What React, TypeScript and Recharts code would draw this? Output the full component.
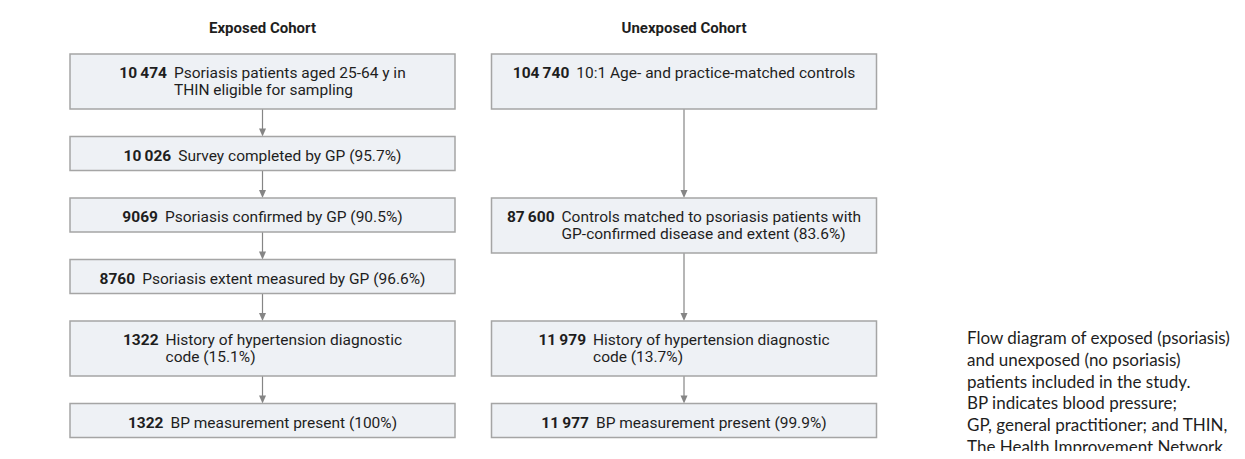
import React from "react";
import { ScatterChart, Scatter, XAxis, YAxis, Customized } from "recharts";

const cohortTitles = ["Exposed Cohort", "Unexposed Cohort"];

const exposedCounts = [10474, 10026, 9069, 8760, 1322, 1322];
const exposedLabels = [
  ["Psoriasis patients aged 25-64 y in", "THIN eligible for sampling"],
  ["Survey completed by GP (95.7%)"],
  ["Psoriasis confirmed by GP (90.5%)"],
  ["Psoriasis extent measured by GP (96.6%)"],
  ["History of hypertension diagnostic", "code (15.1%)"],
  ["BP measurement present (100%)"],
];

const unexposedCounts = [104740, 87600, 11979, 11977];
const unexposedLabels = [
  ["10:1 Age- and practice-matched controls"],
  ["Controls matched to psoriasis patients with", "GP-confirmed disease and extent (83.6%)"],
  ["History of hypertension diagnostic", "code (13.7%)"],
  ["BP measurement present (99.9%)"],
];
// which exposed step each unexposed box lines up with
const unexposedSteps = [0, 2, 4, 5];

const captionLines = [
  "Flow diagram of exposed (psoriasis)",
  "and unexposed (no psoriasis)",
  "patients included in the study.",
  "BP indicates blood pressure;",
  "GP, general practitioner; and THIN,",
  "The Health Improvement Network.",
];

const W = 1245;
const H = 459;
const BOX_W = 385;
const TOP0 = 54;
const GAP = 27.5;
const FONT = "Roboto, sans-serif";
const FS = 15.5;
const TEXT = "#1e1e1e";

const boxH = (lines: number) => (lines > 1 ? 55 : 34);

// row tops follow the exposed column
const rowTops: number[] = [TOP0];
exposedLabels.forEach((l, i) => {
  if (i < exposedLabels.length - 1) rowTops.push(rowTops[i] + boxH(l.length) + GAP);
});

const fmt = (n: number) =>
  n >= 10000 ? String(n).replace(/\B(?=(\d{3})+(?!\d))/g, "\u2009") : String(n);

let ctx: CanvasRenderingContext2D | null = null;
const measure = (s: string, weight: number) => {
  if (!ctx) ctx = document.createElement("canvas").getContext("2d");
  if (!ctx) return s.length * 7;
  ctx.font = `${weight} ${FS}px ${FONT}`;
  return ctx.measureText(s).width;
};

const exposedBoxes = exposedCounts.map((c, i) => ({
  col: 0,
  y: rowTops[i],
  count: c,
  lines: exposedLabels[i],
  h: boxH(exposedLabels[i].length),
}));

const unexposedBoxes = unexposedCounts.map((c, i) => {
  const step = unexposedSteps[i];
  const n = Math.max(unexposedLabels[i].length, exposedLabels[step].length);
  return { col: 1, y: rowTops[step], count: c, lines: unexposedLabels[i], h: boxH(n) };
});

const makeArrows = (boxes: typeof exposedBoxes) =>
  boxes.slice(1).map((b, i) => ({ col: b.col, y: b.y, from: boxes[i].y + boxes[i].h }));

const arrows = [...makeArrows(exposedBoxes), ...makeArrows(unexposedBoxes)];

const titles = cohortTitles.map((t, i) => ({ col: i, y: 33.3, label: t }));

const BoxShape = (props: any) => {
  const { cx, cy, payload } = props;
  const num = fmt(payload.count);
  const numW = measure(num, 700);
  const textW = Math.max(...payload.lines.map((l: string) => measure(l, 400)));
  const gap = 7;
  const start = cx - (numW + gap + textW) / 2;
  const base = cy + 24;
  return (
    <g>
      <rect
        x={cx - BOX_W / 2}
        y={cy}
        width={BOX_W}
        height={payload.h}
        fill="#eef1f5"
        stroke="#a5a5a5"
        strokeWidth={1.5}
      />
      <text x={start} y={base} fontFamily={FONT} fontSize={FS} fontWeight={700} fill={TEXT}>
        {num}
      </text>
      {payload.lines.map((l: string, k: number) => (
        <text
          key={k}
          x={start + numW + gap}
          y={base + k * 17}
          fontFamily={FONT}
          fontSize={FS}
          fill={TEXT}
        >
          {l}
        </text>
      ))}
    </g>
  );
};

const ArrowShape = (props: any) => {
  const { cx, cy, payload } = props;
  const y0 = cy - (payload.y - payload.from);
  return (
    <g>
      <line x1={cx} y1={y0} x2={cx} y2={cy - 7} stroke="#858585" strokeWidth={1.2} />
      <polygon points={`${cx - 3.5},${cy - 8} ${cx + 3.5},${cy - 8} ${cx},${cy}`} fill="#858585" />
    </g>
  );
};

const TitleShape = (props: any) => {
  const { cx, cy, payload } = props;
  return (
    <text x={cx} y={cy} textAnchor="middle" fontFamily={FONT} fontSize={15} fontWeight={700} fill={TEXT}>
      {payload.label}
    </text>
  );
};

const Caption = () => (
  <g>
    {captionLines.map((l, i) => (
      <text key={i} x={967} y={344 + i * 21.8} fontFamily="Lato, sans-serif" fontSize={17} fill={TEXT}>
        {l}
      </text>
    ))}
  </g>
);

export default function App() {
  return (
    <div style={{ margin: -8 }}>
      <ScatterChart width={W} height={H} margin={{ top: 0, bottom: 0, left: 262.5, right: 561 }}>
        <XAxis type="number" dataKey="col" domain={[0, 1]} hide />
        <YAxis type="number" dataKey="y" domain={[0, H]} reversed hide />
        <Scatter data={titles} shape={TitleShape} isAnimationActive={false} />
        <Scatter data={arrows} shape={ArrowShape} isAnimationActive={false} />
        <Scatter data={exposedBoxes} shape={BoxShape} isAnimationActive={false} />
        <Scatter data={unexposedBoxes} shape={BoxShape} isAnimationActive={false} />
        <Customized component={Caption} />
      </ScatterChart>
    </div>
  );
}
